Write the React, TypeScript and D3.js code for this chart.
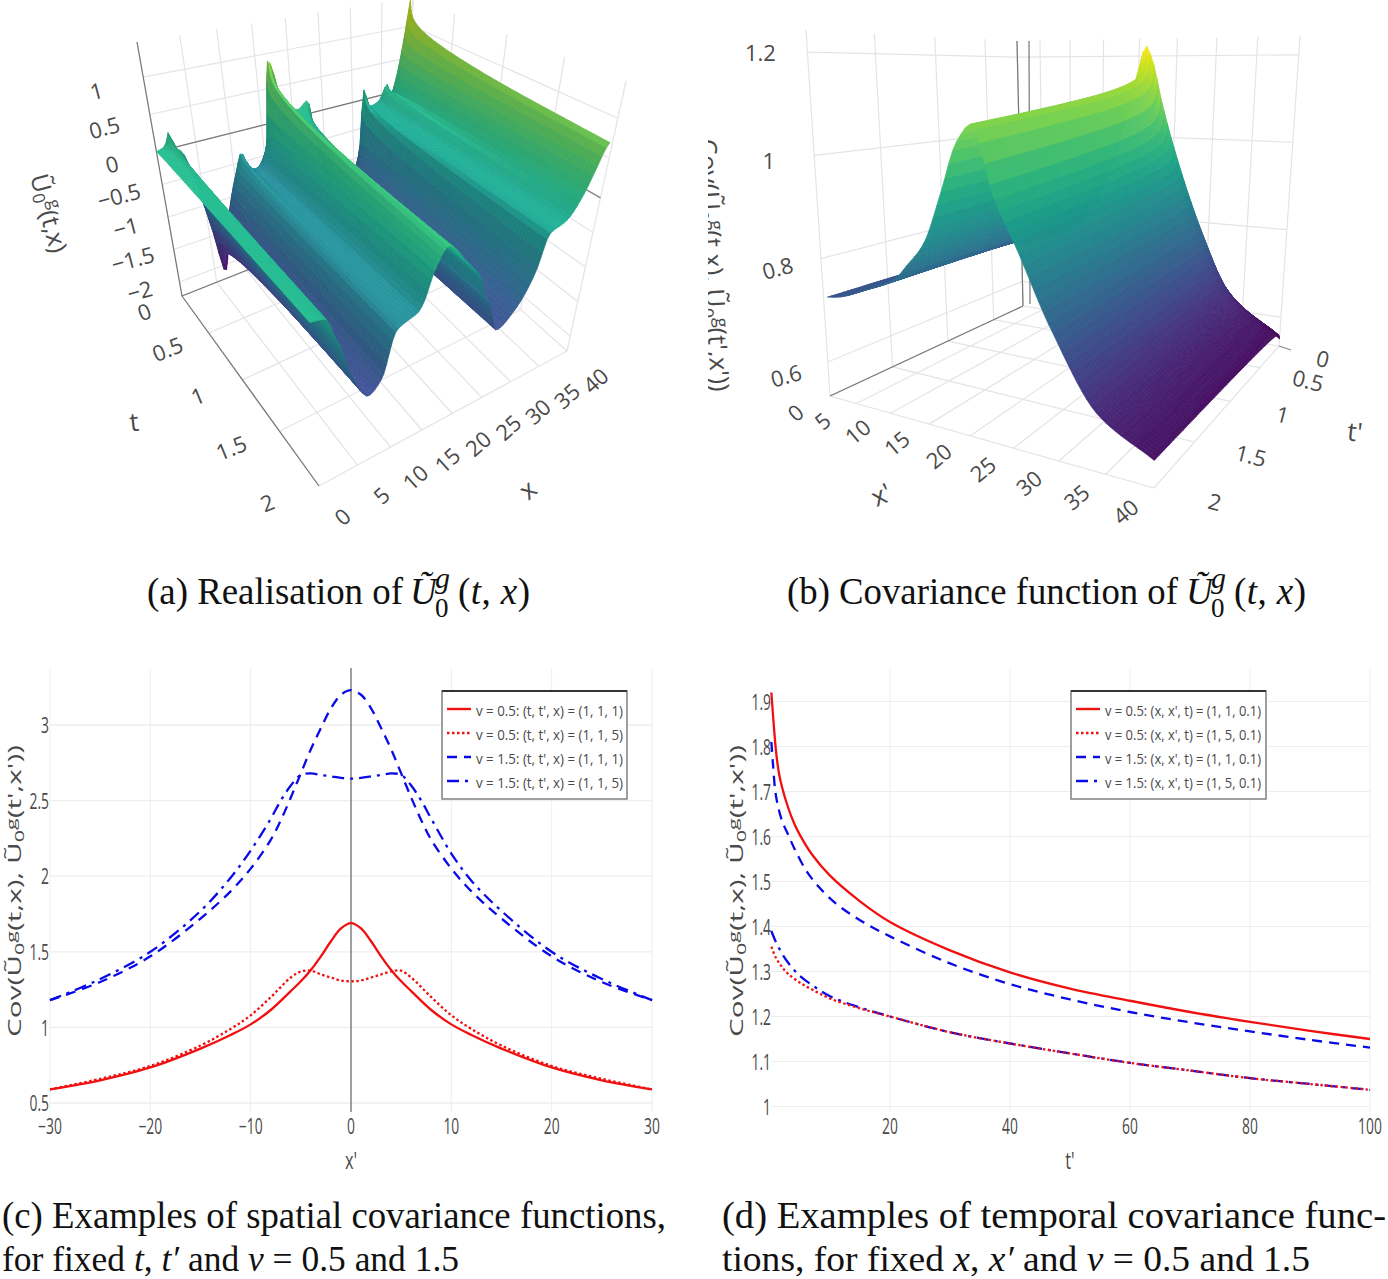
import React from "react";
import * as d3 from "d3";

// ---------- panel (a) data ----------
const aXFront = [0, 1.6, 2.4, 3.2, 4.4, 5.6, 6.65, 8.5, 10.6, 11.8, 13.5, 14.2, 15.7, 17.4, 18.5, 20, 22, 22.6, 23.5, 24.3, 26.2, 29, 31.4, 32.7, 35.1, 37.1, 38.2, 39.3, 40];
const aZFront = [0.03, -0.02, -0.28, -0.5, -0.93, -1.22, -1.34, -1.2, -0.61, -0.555, -0.5, -0.41, 0.01, 0.23, 0.15, -0.05, -0.31, -0.4, -0.7, -0.82, -1.31, -1.12, -0.71, -0.22, -0.125, 0.146, 0.4, 0.67, 0.75];
const aXBack = [0, 1, 1.7, 2.2, 3, 4, 5.5, 6.6, 8.5, 10.4, 11.4, 12.4, 13.3, 15.3, 16.9, 18.5, 21, 22.6, 23.5, 25.7, 29, 31, 32, 33, 34.5, 36, 36.6, 37.5, 39, 39.6, 40];
const aZBack = [0, 0.05, 0.22, 0, -0.1, -0.5, -1.4, -2.1, -1.2, -0.6, -0.35, -0.65, -0.7, -0.45, 0.9, 0.3, 0.1, 0.2, -0.4, -1.3, -1.35, -0.95, 0.15, -0.15, -0.1, 0.15, -0.05, 0.2, 1.0, 1.42, 1.5];
const aTDecay = [0, 0.02, 0.05, 0.1, 0.2, 0.35, 0.5, 0.75, 1, 1.5, 2];
const aDecay = [1, 0.78, 0.64, 0.54, 0.43, 0.33, 0.26, 0.18, 0.12, 0.05, 0];
const aTTicks = [0, 0.5, 1, 1.5, 2];
const aXTicks = [0, 5, 10, 15, 20, 25, 30, 35, 40];
const aZTicks = [-2, -1.5, -1, -0.5, 0, 0.5, 1];

// ---------- panel (b) data ----------
const bXFront = [0, 3.3, 7, 11.4, 13, 15.2, 17.6, 19.2, 20.4, 20.9, 21.5, 23.3, 25.8, 29.3, 34.3, 40];
const bZFront = [0.725, 0.733, 0.755, 0.79, 0.82, 0.867, 0.974, 1.056, 1.09, 1.1, 1.09, 0.978, 0.888, 0.76, 0.63, 0.58];
const bXBack = [0, 5, 11, 15, 18, 20, 20.9, 21.8, 23.3, 26.1, 29.3, 32.9, 40];
const bZBack = [0.69, 0.72, 0.76, 0.86, 1.02, 1.17, 1.225, 1.19, 1.08, 0.917, 0.77, 0.645, 0.55];
const bTDecay = [0, 0.02, 0.05, 0.1, 0.2, 0.4, 0.7, 1, 1.5, 2];
const bDecay = [1, 0.8, 0.65, 0.52, 0.4, 0.28, 0.18, 0.12, 0.05, 0];
const bTTicks = [0, 0.5, 1, 1.5, 2];
const bXTicks = [0, 5, 10, 15, 20, 25, 30, 35, 40];
const bZTicks = [0.6, 0.8, 1, 1.2];

// ---------- panel (c) data ----------
const cXRed = [-30, -25, -20, -15, -12, -10, -8, -6, -5, -4, -3, -2, -1, 0, 1, 2, 3, 4, 5, 6, 8, 10, 12, 15, 20, 25, 30];
const cRedSolid = [0.59, 0.65, 0.735, 0.86, 0.95, 1.02, 1.115, 1.24, 1.305, 1.38, 1.47, 1.57, 1.655, 1.69, 1.655, 1.57, 1.47, 1.38, 1.305, 1.24, 1.115, 1.02, 0.95, 0.86, 0.735, 0.65, 0.59];
const cXRedDot = [-30, -25, -20, -15, -12, -10, -8, -6, -5, -4, -3, -2, -1, 0, 1, 2, 3, 4, 5, 6, 8, 10, 12, 15, 20, 25, 30];
const cRedDot = [0.59, 0.66, 0.745, 0.88, 0.99, 1.08, 1.2, 1.33, 1.37, 1.375, 1.35, 1.33, 1.31, 1.305, 1.31, 1.33, 1.35, 1.37, 1.375, 1.33, 1.2, 1.08, 0.99, 0.88, 0.745, 0.66, 0.59];
const cXBlueDash = [-30, -25, -20, -15, -12, -10, -8, -7, -6, -5, -4, -3, -2, -1, 0, 1, 2, 3, 4, 5, 6, 7, 8, 10, 12, 15, 20, 25, 30];
const cBlueDash = [1.18, 1.3, 1.47, 1.72, 1.9, 2.05, 2.24, 2.37, 2.52, 2.68, 2.84, 2.98, 3.11, 3.2, 3.23, 3.2, 3.11, 2.98, 2.84, 2.68, 2.52, 2.37, 2.24, 2.05, 1.9, 1.72, 1.47, 1.3, 1.18];
const cXBlueDot = [-30, -25, -20, -15, -12, -10, -8, -7, -6, -5, -4, -3, -2, -1, 0, 1, 2, 3, 4, 5, 6, 7, 8, 10, 12, 15, 20, 25, 30];
const cBlueDot = [1.18, 1.32, 1.5, 1.77, 1.99, 2.17, 2.38, 2.5, 2.6, 2.67, 2.68, 2.67, 2.66, 2.65, 2.645, 2.65, 2.66, 2.67, 2.68, 2.67, 2.6, 2.5, 2.38, 2.15, 1.97, 1.77, 1.5, 1.32, 1.18];
const cXTicks = [-30, -20, -10, 0, 10, 20, 30];
const cYTicks = [0.5, 1, 1.5, 2, 2.5, 3];
const cLegend = ["v  = 0.5: (t, t', x) = (1, 1, 1)", "v  = 0.5: (t, t', x) = (1, 1, 5)", "v  = 1.5: (t, t', x) = (1, 1, 1)", "v  = 1.5: (t, t', x) = (1, 1, 5)"];

// ---------- panel (d) data ----------
const dXSolid = [0.23, 0.5, 1, 1.5, 2, 3, 4, 5, 7, 10, 15, 20, 30, 40, 50, 60, 70, 80, 90, 100];
const dSolid = [1.92, 1.87, 1.79, 1.74, 1.71, 1.665, 1.63, 1.603, 1.56, 1.513, 1.456, 1.41, 1.347, 1.298, 1.262, 1.235, 1.21, 1.188, 1.168, 1.15];
const dXDash = [0.23, 0.5, 1, 2, 3, 4, 6, 8, 11, 15, 20, 30, 40, 50, 60, 70, 80, 90, 100];
const dDash = [1.81, 1.76, 1.69, 1.635, 1.605, 1.575, 1.525, 1.49, 1.451, 1.414, 1.378, 1.318, 1.272, 1.238, 1.21, 1.187, 1.167, 1.148, 1.131];
const dXLow = [0.23, 1, 2, 3, 5, 7, 10, 15, 20, 30, 40, 50, 60, 70, 80, 90, 100];
const dDot = [1.355, 1.33, 1.31, 1.295, 1.275, 1.26, 1.24, 1.218, 1.2, 1.165, 1.14, 1.118, 1.097, 1.08, 1.063, 1.05, 1.037];
const dDashDot = [1.39, 1.365, 1.34, 1.32, 1.29, 1.27, 1.245, 1.22, 1.2, 1.165, 1.14, 1.118, 1.097, 1.08, 1.063, 1.05, 1.037];
const dXTicks = [20, 40, 60, 80, 100];
const dYTicks = [1, 1.1, 1.2, 1.3, 1.4, 1.5, 1.6, 1.7, 1.8, 1.9];
const dLegend = ["v = 0.5: (x, x', t) = (1, 1, 0.1)", "v = 0.5: (x, x', t) = (1, 5, 0.1)", "v = 1.5: (x, x', t) = (1, 1, 0.1)", "v = 1.5: (x, x', t) = (1, 5, 0.1)"];

const SANS = "'Open Sans', 'DejaVu Sans', sans-serif";
const SERIF = "'Liberation Serif', serif";
const TICK = "#4a4a4a";
const GRID3D = "#e4e4e8";

type P = [number, number];
interface Box {
  a0: P; b0: P; c0: P; d0: P; a1: P; b1: P; c1: P; d1: P;
  tMax: number; xMax: number; tGamma: number; xGamma: number;
  zDomain: number[]; zRange: number[];
}
function makeProject(box: Box) {
  const zw = d3.scaleLinear().domain(box.zDomain).range(box.zRange);
  return (t: number, x: number, z: number): P => {
    const u = Math.pow(t / box.tMax, box.tGamma);
    const v = Math.pow(x / box.xMax, box.xGamma);
    const w = zw(z);
    const mix = (a: P, b: P, c: P, d: P, i: number) => (1 - u) * (1 - v) * a[i] + u * (1 - v) * b[i] + u * v * c[i] + (1 - u) * v * d[i];
    const bottom: P = [mix(box.a0, box.b0, box.c0, box.d0, 0), mix(box.a0, box.b0, box.c0, box.d0, 1)];
    const top: P = [mix(box.a1, box.b1, box.c1, box.d1, 0), mix(box.a1, box.b1, box.c1, box.d1, 1)];
    return [bottom[0] + (top[0] - bottom[0]) * w, bottom[1] + (top[1] - bottom[1]) * w];
  };
}

// monotone cubic through read-off points, so the surface profiles stay smooth between them
function monotone(xs: number[], ys: number[]) {
  const n = xs.length;
  const d = xs.slice(1).map((x, i) => (ys[i + 1] - ys[i]) / (x - xs[i]));
  const m = xs.map((_, i) => {
    if (i === 0) return d[0];
    if (i === n - 1) return d[n - 2];
    if (d[i - 1] * d[i] <= 0) return 0;
    const h0 = xs[i] - xs[i - 1], h1 = xs[i + 1] - xs[i];
    return (3 * (h0 + h1)) / ((2 * h1 + h0) / d[i - 1] + (h1 + 2 * h0) / d[i]);
  });
  const bis = d3.bisector((x: number) => x).right;
  return (x: number) => {
    const i = Math.max(0, Math.min(n - 2, bis(xs, x) - 1));
    const h = xs[i + 1] - xs[i];
    const s = (x - xs[i]) / h;
    return (2 * s ** 3 - 3 * s ** 2 + 1) * ys[i] + (s ** 3 - 2 * s ** 2 + s) * h * m[i] + (-2 * s ** 3 + 3 * s ** 2) * ys[i + 1] + (s ** 3 - s ** 2) * h * m[i + 1];
  };
}

const boxA: Box = {
  a0: [182, 296], b0: [319, 486], c0: [567, 351], d0: [406, 207],
  a1: [137, 42], b1: [303, 202], c1: [626, 81], d1: [413, -3],
  tMax: 2, xMax: 40, tGamma: 1.18, xGamma: 0.897,
  zDomain: [-2.2, -2, 0, 1, 1.45], zRange: [0, 0.055, 0.567, 0.862, 1],
};
const boxB: Box = {
  a0: [1023, 306], b0: [830, 396], c0: [1154, 488], d0: [1279, 346],
  a1: [1017, 41], b1: [806, 30], c1: [1158, 62], d1: [1300, 36],
  tMax: 2, xMax: 40, tGamma: 1.36, xGamma: 1.208,
  zDomain: [0.534, 1.243], zRange: [0, 1],
};

// continuous viridis (d3's own ramp is 256 discrete steps, which shows as bands on a slow slope)
const viridis = d3.interpolateRgbBasis(d3.quantize(d3.interpolateViridis, 24));

interface SurfOpts { xStep: number; tCount: number; xDesc: boolean; zColor: [number, number]; light: number; dim: number; hiDim: number; xStart: number; xEnd: number }
function surfaceQuads(
  box: Box, xFront: number[], zFront: number[], xBack: number[], zBack: number[],
  tDecay: number[], decay: number[], o: SurfOpts
) {
  const project = makeProject(box);
  const front = monotone(xFront, zFront);
  const back = monotone(xBack, zBack);
  const dec = monotone(tDecay, decay);
  const zOf = (t: number, x: number) => front(x) + (back(x) - front(x)) * dec(t);
  const xs = d3.range(o.xStart, o.xEnd + 1e-6, o.xStep);
  const tsRaw = d3.scalePow().exponent(1.35).domain([0, o.tCount]).range([0, 2]);
  const ts = d3.range(0, o.tCount + 1).map((i) => tsRaw(i));
  const norm = d3.scaleLinear().domain(o.zColor).range([0, 1]).clamp(true);
  const quads: { pts: string; fill: string }[] = [];
  const xIdx = d3.range(0, xs.length - 1);
  if (o.xDesc) xIdx.reverse();
  for (let j = 0; j < ts.length - 1; j++) {
    for (const i of xIdx) {
      const [x0, x1] = [xs[i], xs[i + 1]];
      const [t0, t1] = [ts[j], ts[j + 1]];
      const z = [zOf(t0, x0), zOf(t0, x1), zOf(t1, x1), zOf(t1, x0)];
      const pts = [project(t0, x0, z[0]), project(t0, x1, z[1]), project(t1, x1, z[2]), project(t1, x0, z[3])];
      const v = norm(d3.mean(z) as number);
      const slope = Math.abs((z[1] + z[2] - z[0] - z[3]) / 2 / o.xStep);
      const flat = 1 / (1 + Math.pow(slope * 6, 2));
      const c = d3.rgb(viridis(v)).brighter(o.light * flat - o.dim - o.hiDim * Math.max(0, v - 0.6));
      quads.push({ pts: pts.map((p) => p[0].toFixed(1) + "," + p[1].toFixed(1)).join(" "), fill: c.formatRgb() });
    }
  }
  return quads;
}

function Surface({ quads }: { quads: { pts: string; fill: string }[] }) {
  return (
    <g filter="url(#soft)">
      {quads.map((q, i) => (
        <polygon key={i} points={q.pts} fill={q.fill} stroke={q.fill} strokeWidth={0.7} />
      ))}
    </g>
  );
}

function Seg({ a, b, c = GRID3D, w = 1.2 }: { a: P; b: P; c?: string; w?: number }) {
  return <line x1={a[0]} y1={a[1]} x2={b[0]} y2={b[1]} stroke={c} strokeWidth={w} />;
}

function Lbl({ p, r = 0, s = 22, children, sx = 1, anchor = "middle" }: any) {
  return (
    <text
      transform={`translate(${p[0]},${p[1]}) rotate(${r}) scale(${sx},1)`}
      fontFamily={SANS} fontSize={s} fill={TICK} textAnchor={anchor} dominantBaseline="central"
    >
      {children}
    </text>
  );
}

const minus = (v: number) => String(v).replace("-", "\u2212");

function PanelA() {
  const project = makeProject(boxA);
  const zLow = -2.2, zTop = 1.45;
  const quads = surfaceQuads(boxA, aXFront, aZFront, aXBack, aZBack, aTDecay, aDecay, { xStep: 0.4, tCount: 90, xDesc: true, zColor: [-2.2, 1.47], light: 0.8, dim: 0.45, hiDim: 1.2, xStart: 0, xEnd: 39.6 });
  const off = (d: number[], r: number[]) => d3.scaleLinear().domain(d).range(r);
  const xOx = off([0, 40], [23, 28]), xOy = off([0, 40], [30, 29]);
  const tOx = off([0, 2], [-38, -52]), tOy = off([0, 2], [15, 16]);
  const zOx = off([-2, 1], [-40, -47]), zOy = off([-2, 1], [8, 13]);
  return (
    <g>
      {aXTicks.map((x) => (
        <g key={"x" + x}>
          <Seg a={project(0, x, zLow)} b={project(0, x, zTop)} />
          <Seg a={project(0, x, zLow)} b={project(2, x, zLow)} />
        </g>
      ))}
      {aTTicks.map((t) => (
        <g key={"t" + t}>
          <Seg a={project(t, 40, zLow)} b={project(t, 40, zTop)} />
          <Seg a={project(t, 0, zLow)} b={project(t, 40, zLow)} />
        </g>
      ))}
      {aZTicks.map((z) => (
        <g key={"z" + z}>
          <Seg a={project(0, 0, z)} b={project(0, 40, z)} />
          <Seg a={project(0, 40, z)} b={project(2, 40, z)} />
        </g>
      ))}
      <Seg a={project(0, 0, 0)} b={project(0, 40, 0)} c="#777" w={1.3} />
      <Seg a={project(0, 40, 0)} b={project(2, 40, 0)} c="#888" w={1.3} />
      <Seg a={project(0, 0, zLow)} b={project(0, 0, zTop)} c="#777" w={1.2} />
      <Seg a={project(0, 0, zLow)} b={project(2, 0, zLow)} c="#777" w={1.2} />
      <Seg a={project(0, 0, zLow)} b={project(0, 40, zLow)} c="#777" w={1.2} />
      <Surface quads={quads} />
      {aTTicks.map((t) => (
        <Lbl key={t} p={[project(t, 0, zLow)[0] + tOx(t), project(t, 0, zLow)[1] + tOy(t)]} r={-22}>{minus(t)}</Lbl>
      ))}
      {aXTicks.map((x) => (
        <Lbl key={x} p={[project(2, x, zLow)[0] + xOx(x), project(2, x, zLow)[1] + xOy(x)]} r={-42}>{minus(x)}</Lbl>
      ))}
      {aZTicks.map((z) => (
        <Lbl key={z} p={[project(0, 0, z)[0] + zOx(z), project(0, 0, z)[1] + zOy(z)]} r={-15}>{minus(z)}</Lbl>
      ))}
      <Lbl p={[134, 421]} s={26} r={-6}>t</Lbl>
      <Lbl p={[527, 489]} s={26} r={-40}>x</Lbl>
      <Lbl p={[50, 213]} s={25} r={75}>{"Ũ"}<tspan fontSize={17} dy={6}>0</tspan><tspan fontSize={17} dy={-14}>g</tspan><tspan dy={8}>(t,x)</tspan></Lbl>
    </g>
  );
}

function PanelB() {
  const project = makeProject(boxB);
  const zLow = 0.534, zTop = 1.243;
  const quads = surfaceQuads(boxB, bXFront, bZFront, bXBack, bZBack, bTDecay, bDecay, { xStep: 0.5, tCount: 90, xDesc: false, zColor: [0.55, 1.225], light: 0, dim: 0, hiDim: 0, xStart: 1, xEnd: 40 });
  const off = (d: number[], r: number[]) => d3.scaleLinear().domain(d).range(r);
  const xOx = off([0, 40], [-35, -29]), xOy = off([0, 40], [16, 23]);
  const tOx = off([0, 2], [44, 61]), tOy = off([0, 2], [12, 13]);
  const zOx = off([0.6, 1.2], [-42, -47]), zOy = off([0.6, 1.2], [13, 0]);
  return (
    <g>
      <defs>
        <clipPath id="bclip"><rect x={708} y={140} width={40} height={270} /></clipPath>
      </defs>
      {bXTicks.map((x) => (
        <g key={"x" + x}>
          <Seg a={project(0, x, zLow)} b={project(0, x, zTop)} />
          <Seg a={project(0, x, zLow)} b={project(2, x, zLow)} />
        </g>
      ))}
      {bTTicks.map((t) => (
        <g key={"t" + t}>
          <Seg a={project(t, 0, zLow)} b={project(t, 0, zTop)} />
          <Seg a={project(t, 0, zLow)} b={project(t, 40, zLow)} />
        </g>
      ))}
      {bZTicks.map((z) => (
        <g key={"z" + z}>
          <Seg a={project(0, 0, z)} b={project(2, 0, z)} />
          <Seg a={project(0, 0, z)} b={project(0, 40, z)} />
        </g>
      ))}
      <Seg a={project(0, 0, zLow)} b={project(0, 0, zTop)} c="#777" />
      <line x1={1029} y1={41} x2={1030} y2={304} stroke="#777" strokeWidth={1.2} />
      <Seg a={project(0, 0, zLow)} b={project(2, 0, zLow)} c="#777" />
      <Seg a={project(0, 40, zLow)} b={[1291, 350]} c="#888" />
      <Surface quads={quads} />
      {bTTicks.map((t) => (
        <Lbl key={t} p={[project(t, 40, zLow)[0] + tOx(t), project(t, 40, zLow)[1] + tOy(t)]} r={14}>{t}</Lbl>
      ))}
      {bXTicks.map((x) => (
        <Lbl key={x} p={[project(2, x, zLow)[0] + xOx(x), project(2, x, zLow)[1] + xOy(x)]} r={-40}>{x}</Lbl>
      ))}
      {bZTicks.map((z) => (
        <Lbl key={z} p={[project(2, 0, z)[0] + zOx(z), project(2, 0, z)[1] + zOy(z)]} r={z < 0.9 ? -15 : 0}>{z}</Lbl>
      ))}
      <Lbl p={[1355, 431]} s={26} r={6}>t'</Lbl>
      <Lbl p={[881, 494]} s={26} r={-25}>x'</Lbl>
      <g clipPath="url(#bclip)">
        <text transform="translate(711,392) rotate(87)" fontFamily={SANS} fontSize={26} fill={TICK} textAnchor="end">
          {"Cov(Ũ"}<tspan fontSize={18} dy={6}>0</tspan><tspan fontSize={18} dy={-14}>g</tspan><tspan dy={8}>{"(t,x), Ũ"}</tspan><tspan fontSize={18} dy={6}>0</tspan><tspan fontSize={18} dy={-14}>g</tspan><tspan dy={8}>{"(t',x'))"}</tspan>
        </text>
      </g>
    </g>
  );
}

function lineOf(xs: number[], ys: number[], sx: any, sy: any) {
  const pts = xs.map((x, i) => [x, ys[i]] as [number, number]);
  return d3.line<[number, number]>().x((d) => sx(d[0])).y((d) => sy(d[1])).curve(d3.curveCatmullRom.alpha(0.5))(pts) as string;
}

const STYLES = [
  { c: "#f01010", dash: undefined as string | undefined, w: 2.3 },
  { c: "#f01010", dash: "2.5 2.5", w: 2.3 },
  { c: "#0a0ae6", dash: "10 7", w: 2.3 },
  { c: "#0a0ae6", dash: "12 6 3 6", w: 2.3 },
];

function Legend({ x, y, w, h, labels, tw }: any) {
  return (
    <g>
      <rect x={x} y={y} width={w} height={h} fill="#fff" stroke="#777" strokeWidth={1.4} />
      <line x1={x} x2={x + w} y1={y} y2={y} stroke="#333" strokeWidth={2} />
      {labels.map((l: string, i: number) => {
        const yy = y + 19 + i * 24;
        const s = STYLES[i];
        return (
          <g key={i}>
            <line x1={x + 5} x2={x + 29} y1={yy - 1} y2={yy - 1} stroke={s.c} strokeWidth={2.4} strokeDasharray={s.dash} />
            <text x={x + 34} y={yy} fontFamily={SANS} fontSize={15} fill="#4a4a4a" dominantBaseline="central" textLength={tw} lengthAdjust="spacingAndGlyphs">{l}</text>
          </g>
        );
      })}
    </g>
  );
}

function YTitle({ cx, len }: { cx: number; len: number }) {
  return (
    <text transform={`translate(${cx},${891}) rotate(-90)`} fontFamily={SANS} fontSize={18} fill={TICK} textAnchor="middle" textLength={len} lengthAdjust="spacingAndGlyphs">
      {"Cov(Ũ"}<tspan fontSize={13} dy={3}>0</tspan><tspan fontSize={13} dy={-8}>g</tspan><tspan dy={5}>{"(t,x),  Ũ"}</tspan><tspan fontSize={13} dy={3}>0</tspan><tspan fontSize={13} dy={-8}>g</tspan><tspan dy={5}>{"(t',x'))"}</tspan>
    </text>
  );
}

function PanelC() {
  const sx = d3.scaleLinear().domain([-30, 30]).range([50, 652]);
  const sy = d3.scaleLinear().domain([0.5, 3]).range([1103, 725]);
  const series = [[cXRed, cRedSolid], [cXRedDot, cRedDot], [cXBlueDash, cBlueDash], [cXBlueDot, cBlueDot]];
  return (
    <g>
      {cXTicks.filter((t) => t !== 0).map((t) => (
        <line key={t} x1={sx(t)} x2={sx(t)} y1={668} y2={1112} stroke="#eeeeee" strokeWidth={1} />
      ))}
      {cYTicks.map((t) => (
        <line key={t} x1={50} x2={652} y1={sy(t)} y2={sy(t)} stroke="#eeeeee" strokeWidth={1.3} />
      ))}
      <line x1={sx(0)} x2={sx(0)} y1={668} y2={1112} stroke="#777" strokeWidth={1.4} />
      {series.map((s, i) => (
        <path key={i} d={lineOf(s[0], s[1], sx, sy)} fill="none" stroke={STYLES[i].c} strokeWidth={STYLES[i].w} strokeDasharray={STYLES[i].dash} />
      ))}
      {cXTicks.map((t) => (
        <Lbl key={t} p={[sx(t), 1126]} s={21} sx={0.66}>{minus(t)}</Lbl>
      ))}
      {cYTicks.map((t) => (
        <Lbl key={t} p={[49, sy(t)]} s={21} sx={0.66} anchor="end">{t}</Lbl>
      ))}
      <Lbl p={[351, 1160]} s={24} sx={0.68}>x'</Lbl>
      <YTitle cx={21} len={292} />
      <Legend x={442} y={691} w={185} h={108} labels={cLegend} tw={147} />
    </g>
  );
}

function PanelD() {
  const sx = d3.scaleLinear().domain([20, 100]).range([890, 1370]);
  const sy = d3.scaleLinear().domain([1, 1.9]).range([1106.5, 701.5]);
  const series = [[dXSolid, dSolid], [dXLow, dDot], [dXDash, dDash], [dXLow, dDashDot]];
  const order = [0, 2, 3, 1];
  return (
    <g>
      {dXTicks.map((t) => (
        <line key={t} x1={sx(t)} x2={sx(t)} y1={668} y2={1112} stroke="#eeeeee" strokeWidth={1} />
      ))}
      {dYTicks.map((t) => (
        <line key={t} x1={771} x2={1370} y1={sy(t)} y2={sy(t)} stroke="#eeeeee" strokeWidth={1.1} />
      ))}
      {order.map((i) => (
        <path key={i} d={lineOf(series[i][0], series[i][1], sx, sy)} fill="none" stroke={STYLES[i].c} strokeWidth={STYLES[i].w} strokeDasharray={STYLES[i].dash} />
      ))}
      {dXTicks.map((t) => (
        <Lbl key={t} p={[sx(t), 1126]} s={21} sx={0.66}>{t}</Lbl>
      ))}
      {dYTicks.map((t) => (
        <Lbl key={t} p={[771, sy(t)]} s={21} sx={0.66} anchor="end">{t}</Lbl>
      ))}
      <Lbl p={[1070, 1160]} s={24} sx={0.68}>t'</Lbl>
      <YTitle cx={743} len={292} />
      <Legend x={1071} y={691} w={195} h={108} labels={dLegend} tw={156} />
    </g>
  );
}

function CapMath({ x, y }: { x: number; y: number }) {
  return (
    <g fontFamily={SERIF} fill="#111">
      <text x={x} y={y} fontSize={37} fontStyle="italic">Ũ</text>
      <text x={x + 25} y={y - 16} fontSize={30} fontStyle="italic">g</text>
      <text x={x + 25} y={y + 13} fontSize={27}>0</text>
      <text x={x + 48} y={y} fontSize={37} textLength={72} lengthAdjust="spacing">(<tspan fontStyle="italic">t</tspan>, <tspan fontStyle="italic">x</tspan>)</text>
    </g>
  );
}

function Captions() {
  const t = { fontFamily: SERIF, fontSize: 37, fill: "#111", lengthAdjust: "spacingAndGlyphs" };
  return (
    <g>
      <text x={147} y={604} {...t} textLength={256}>(a) Realisation of</text>
      <CapMath x={410} y={604} />
      <text x={787} y={604} {...t} textLength={391}>(b) Covariance function of</text>
      <CapMath x={1186} y={604} />
      <text x={2} y={1228} {...t} textLength={664}>(c) Examples of spatial covariance functions,</text>
      <text x={2} y={1271} {...t} fontSize={36} textLength={457}>for fixed <tspan fontStyle="italic">t</tspan>, <tspan fontStyle="italic">t′</tspan> and <tspan fontStyle="italic">ν</tspan> = 0.5 and 1.5</text>
      <text x={722} y={1228} {...t} textLength={664}>(d) Examples of temporal covariance func-</text>
      <text x={722} y={1271} {...t} fontSize={36} textLength={588}>tions, for fixed <tspan fontStyle="italic">x</tspan>, <tspan fontStyle="italic">x′</tspan> and <tspan fontStyle="italic">ν</tspan> = 0.5 and 1.5</text>
    </g>
  );
}

export default function App() {
  return (
    <svg width={1388} height={1279} viewBox="0 0 1388 1279" style={{ position: "absolute", left: 0, top: 0, background: "#fff" }}>
      <defs>
        <filter id="soft" x="-5%" y="-5%" width="110%" height="110%">
          <feGaussianBlur stdDeviation={0.6} />
        </filter>
      </defs>
      <PanelA />
      <PanelB />
      <PanelC />
      <PanelD />
      <Captions />
    </svg>
  );
}
